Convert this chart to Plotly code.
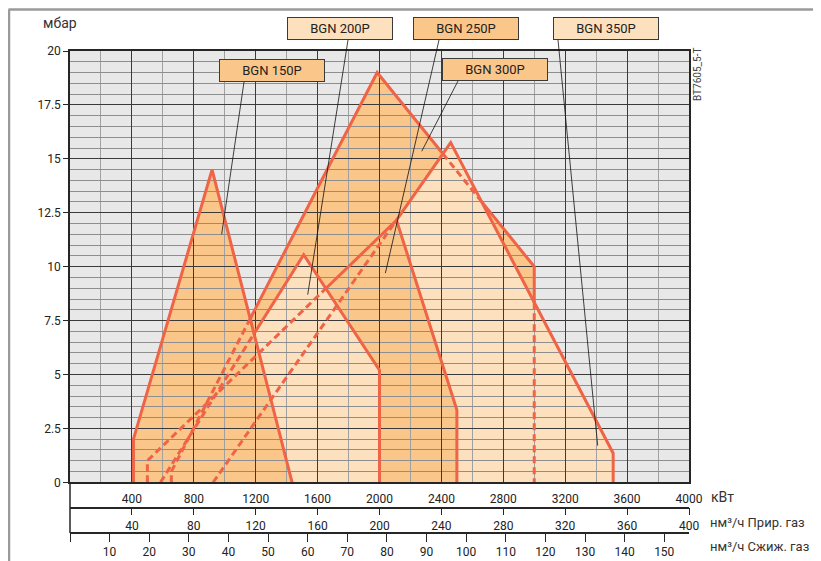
import plotly.graph_objects as go

# ---------------- data ----------------
kw_150 = [410, 410, 918, 1435]
mbar_150 = [0.0, 2.0, 14.5, 0.0]
kw_200 = [585, 1510, 2000, 2000]
mbar_200 = [0.0, 10.55, 5.2, 0.0]
kw_250 = [500, 500, 2110, 2500, 2500]
mbar_250 = [0.0, 1.0, 12.15, 3.35, 0.0]
kw_300 = [655, 655, 1985, 3000, 3000]
mbar_300 = [0.0, 0.5, 19.0, 10.0, 0.0]
kw_350 = [925, 2460, 3510, 3510]
mbar_350 = [0.0, 15.75, 1.35, 0.0]

model_names = ["BGN 150P", "BGN 200P", "BGN 250P", "BGN 300P", "BGN 350P"]
# points the label leader lines point at (kW, mbar)
label_kw = [980, 1536, 2038, 2273, 3410]
label_mbar = [11.5, 8.7, 9.7, 15.35, 1.7]

kw_ticks = [400, 800, 1200, 1600, 2000, 2400, 2800, 3200, 3600, 4000]
ng_ticks = [40, 80, 120, 160, 200, 240, 280, 320, 360, 400]
lpg_ticks = [10, 20, 30, 40, 50, 60, 70, 80, 90, 100, 110, 120, 130, 140, 150]
mbar_ticks = [0, 2.5, 5, 7.5, 10, 12.5, 15, 17.5, 20]
mbar_ticktext = ["0", "2.5", "5", "7.5", "10", "12.5", "15", "17.5", "20"]

KW_MAX = 4000
MBAR_MAX = 20
KW_PER_NG = 10.0    # kW per nm3/h natural gas
KW_PER_LPG = 25.6   # kW per nm3/h LPG

# ---------------- styles ----------------
ORANGE = "#fbc68a"
LIGHT = "#fde0be"
RED = "#ef6446"
DARK = "#262626"
polys = {
    "BGN 150P": (kw_150, mbar_150),
    "BGN 200P": (kw_200, mbar_200),
    "BGN 250P": (kw_250, mbar_250),
    "BGN 300P": (kw_300, mbar_300),
    "BGN 350P": (kw_350, mbar_350),
}
fill_of = {"BGN 150P": ORANGE, "BGN 200P": LIGHT, "BGN 250P": ORANGE,
           "BGN 300P": ORANGE, "BGN 350P": LIGHT}
draw_order = ["BGN 300P", "BGN 350P", "BGN 250P", "BGN 200P", "BGN 150P"]

# the page adds an 8px body margin; lay the figure out in screen pixels
OFF = 8
W, H = 821 - OFF, 561 - OFF
ML, MT = 70 - OFF, 51 - OFF
MR = W - (689 - OFF)
MB = H - (533 - OFF)
PW, PH = W - ML - MR, H - MT - MB


def px_x(px):
    return (px - OFF - ML) / PW


def px_y(py):
    return (H - MB - (py - OFF)) / PH


Y0 = px_y(482.3)
P_NG = px_y(507.7)


def data_to_paper(kw, mb):
    return kw / KW_MAX, Y0 + mb / MBAR_MAX * (1 - Y0)


# ---------------- geometry helpers ----------------
def seg_t(p, q, a, b):
    rx, ry = q[0] - p[0], q[1] - p[1]
    sx, sy = b[0] - a[0], b[1] - a[1]
    den = rx * sy - ry * sx
    if abs(den) < 1e-12:
        return None
    t = ((a[0] - p[0]) * sy - (a[1] - p[1]) * sx) / den
    u = ((a[0] - p[0]) * ry - (a[1] - p[1]) * rx) / den
    if 1e-9 < t < 1 - 1e-9 and -1e-9 <= u <= 1 + 1e-9:
        return t
    return None


def inside(pt, poly):
    x, y = pt
    n = len(poly)
    c = False
    for i in range(n):
        x1, y1 = poly[i]
        x2, y2 = poly[(i + 1) % n]
        if (y1 > y) != (y2 > y):
            xi = x1 + (y - y1) * (x2 - x1) / (y2 - y1)
            if xi > x:
                c = not c
    return c


fig = go.Figure()

# fills (drawn below the grid, later models on top)
shapes = []
for name in draw_order:
    xs, ys = polys[name]
    path = "M " + " L ".join(f"{x},{y}" for x, y in zip(xs, ys)) + " Z"
    shapes.append(dict(type="path", xref="x", yref="y", path=path,
                       fillcolor=fill_of[name], line=dict(width=0), layer="below"))

# boundaries: dashed where covered by a later-drawn field
solid_x, solid_y, dash_x, dash_y = [], [], [], []
for k, name in enumerate(draw_order):
    xs, ys = polys[name]
    pts = list(zip(xs, ys))
    later = [list(zip(*polys[m])) for m in draw_order[k + 1:]]
    segs = []
    for i in range(len(pts) - 1):
        p, q = pts[i], pts[i + 1]
        ts = {0.0, 1.0}
        for lp in later:
            for j in range(len(lp)):
                t = seg_t(p, q, lp[j], lp[(j + 1) % len(lp)])
                if t is not None:
                    ts.add(t)
        ts = sorted(ts)
        for t0, t1 in zip(ts[:-1], ts[1:]):
            a = (p[0] + (q[0] - p[0]) * t0, p[1] + (q[1] - p[1]) * t0)
            b = (p[0] + (q[0] - p[0]) * t1, p[1] + (q[1] - p[1]) * t1)
            m = ((a[0] + b[0]) / 2, (a[1] + b[1]) / 2)
            dashed = any(inside(m, lp) for lp in later)
            segs.append((a, b, dashed))
    runs = []
    for a, b, d in segs:
        if runs and runs[-1][1] == d:
            runs[-1][0].append(b)
        else:
            runs.append(([a, b], d))
    for line_pts, d in runs:
        tx = dash_x if d else solid_x
        ty = dash_y if d else solid_y
        tx.extend([pp[0] for pp in line_pts] + [None])
        ty.extend([pp[1] for pp in line_pts] + [None])

fig.add_trace(go.Scatter(x=dash_x, y=dash_y, mode="lines",
                         line=dict(color=RED, width=3, dash="7px,4px"),
                         hoverinfo="skip", showlegend=False))
fig.add_trace(go.Scatter(x=solid_x, y=solid_y, mode="lines",
                         line=dict(color=RED, width=3),
                         hoverinfo="skip", showlegend=False))
# empty traces that activate the two secondary flow-rate axes (no marks drawn)
fig.add_trace(go.Scatter(x=ng_ticks, y=[None] * len(ng_ticks), xaxis="x2", yaxis="y",
                         mode="markers", hoverinfo="skip", showlegend=False))
fig.add_trace(go.Scatter(x=lpg_ticks, y=[None] * len(lpg_ticks), xaxis="x3", yaxis="y",
                         mode="markers", hoverinfo="skip", showlegend=False))

# label boxes and leader lines
box_center_px = {"BGN 150P": (271.5, 71), "BGN 200P": (340, 29), "BGN 250P": (466, 29),
                 "BGN 300P": (494.5, 70), "BGN 350P": (606, 29)}
leader_start_px = {"BGN 150P": (244, 82), "BGN 200P": (348, 40), "BGN 250P": (439, 40),
                   "BGN 300P": (458, 81), "BGN 350P": (558, 40)}
annotations = []
for name, tkw, tmb in zip(model_names, label_kw, label_mbar):
    sx, sy = leader_start_px[name]
    ex, ey = data_to_paper(tkw, tmb)
    shapes.append(dict(type="line", xref="paper", yref="paper",
                       x0=px_x(sx), y0=px_y(sy), x1=ex, y1=ey,
                       line=dict(color="#111", width=0.8), layer="above"))
    cx, cy = box_center_px[name]
    annotations.append(dict(xref="paper", yref="paper", x=px_x(cx), y=px_y(cy),
                            text=name, showarrow=False, xanchor="center", yanchor="middle",
                            bgcolor=fill_of[name], bordercolor="#3a3a3a", borderwidth=1,
                            borderpad=0, width=104, height=21,
                            font=dict(family="Roboto, sans-serif", size=13, color="#222")))

unit_font = dict(family="Roboto, sans-serif", size=13, color="#333")
annotations += [
    dict(xref="paper", yref="paper", x=px_x(41), y=px_y(23), text="мбар", showarrow=False,
         xanchor="left", yanchor="middle", font=dict(family="Roboto, sans-serif", size=14, color="#333")),
    dict(xref="paper", yref="paper", x=px_x(709), y=px_y(497), text="кВт", showarrow=False,
         xanchor="left", yanchor="middle", font=dict(family="Roboto, sans-serif", size=14, color="#333")),
    dict(xref="paper", yref="paper", x=px_x(708), y=px_y(522), text="нм³/ч Прир. газ",
         showarrow=False, xanchor="left", yanchor="middle", font=unit_font),
    dict(xref="paper", yref="paper", x=px_x(708), y=px_y(546), text="нм³/ч Сжиж. газ",
         showarrow=False, xanchor="left", yanchor="middle", font=unit_font),
    dict(xref="paper", yref="paper", x=px_x(697), y=px_y(75), text="BT7605_5-T",
         showarrow=False, textangle=-90, xanchor="center", yanchor="middle",
         font=dict(family="Roboto, sans-serif", size=10, color="#444")),
]

# frame and left extension line
shapes += [
    dict(type="line", xref="paper", yref="paper", x0=px_x(8.5), y0=px_y(9.5), x1=px_x(830), y1=px_y(9.5),
         line=dict(color="#9a9a9a", width=2.5), layer="above"),
    dict(type="line", xref="paper", yref="paper", x0=px_x(9), y0=px_y(9.5), x1=px_x(9), y1=px_y(570),
         line=dict(color="#9a9a9a", width=2.5), layer="above"),
    dict(type="line", xref="paper", yref="paper", x0=0, y0=0, x1=0, y1=Y0,
         line=dict(color=DARK, width=1.5), layer="above"),
]

tickfont = dict(family="Roboto, sans-serif", size=12, color="#222")
fig.update_layout(
    template="none",
    width=W, height=H,
    margin=dict(l=ML, r=MR, t=MT, b=MB, autoexpand=False),
    paper_bgcolor="white", plot_bgcolor="#e8e8e8",
    showlegend=False,
    font=dict(family="Roboto, sans-serif", size=12, color="#222"),
    shapes=shapes, annotations=annotations,
    xaxis=dict(range=[0, KW_MAX], domain=[0, 1], tickmode="array", tickvals=kw_ticks,
               automargin=False,
               showgrid=True, gridcolor="#3a3a3a", gridwidth=1,
               minor=dict(tickmode="linear", tick0=0, dtick=200, showgrid=True,
                          gridcolor="#a0a0a0", gridwidth=1.3),
               showline=True, linecolor=DARK, linewidth=1.5, mirror=True,
               ticks="", ticklabelstandoff=5, zeroline=False, tickfont=tickfont),
    yaxis=dict(range=[0, MBAR_MAX], domain=[Y0, 1], tickmode="array", tickvals=mbar_ticks,
               automargin=False,
               ticktext=mbar_ticktext, showgrid=True, gridcolor="#3a3a3a", gridwidth=1,
               minor=dict(tickmode="linear", tick0=0, dtick=0.5, showgrid=True,
                          gridcolor="#8e8e8e", gridwidth=1),
               showline=True, linecolor=DARK, linewidth=1.5, mirror=True,
               ticks="outside", ticklen=5, tickcolor=DARK, zeroline=False, tickfont=tickfont),
    xaxis2=dict(overlaying="x", anchor="free", position=P_NG, side="bottom", automargin=False,
                range=[0, KW_MAX / KW_PER_NG], tickmode="array", tickvals=ng_ticks,
                showgrid=False, zeroline=False, showline=True, linecolor=DARK, linewidth=1.5,
                ticks="outside", ticklen=7, tickcolor=DARK, tickfont=tickfont),
    xaxis3=dict(overlaying="x", anchor="free", position=0, side="bottom", automargin=False,
                range=[0, KW_MAX / KW_PER_LPG], tickmode="array", tickvals=[0] + lpg_ticks,
                ticktext=[""] + [str(v) for v in lpg_ticks],
                showgrid=False, zeroline=False, showline=True, linecolor=DARK, linewidth=1.5,
                ticks="outside", ticklen=8, tickcolor=DARK, tickfont=tickfont),
)

fig.write_html("out.html")
